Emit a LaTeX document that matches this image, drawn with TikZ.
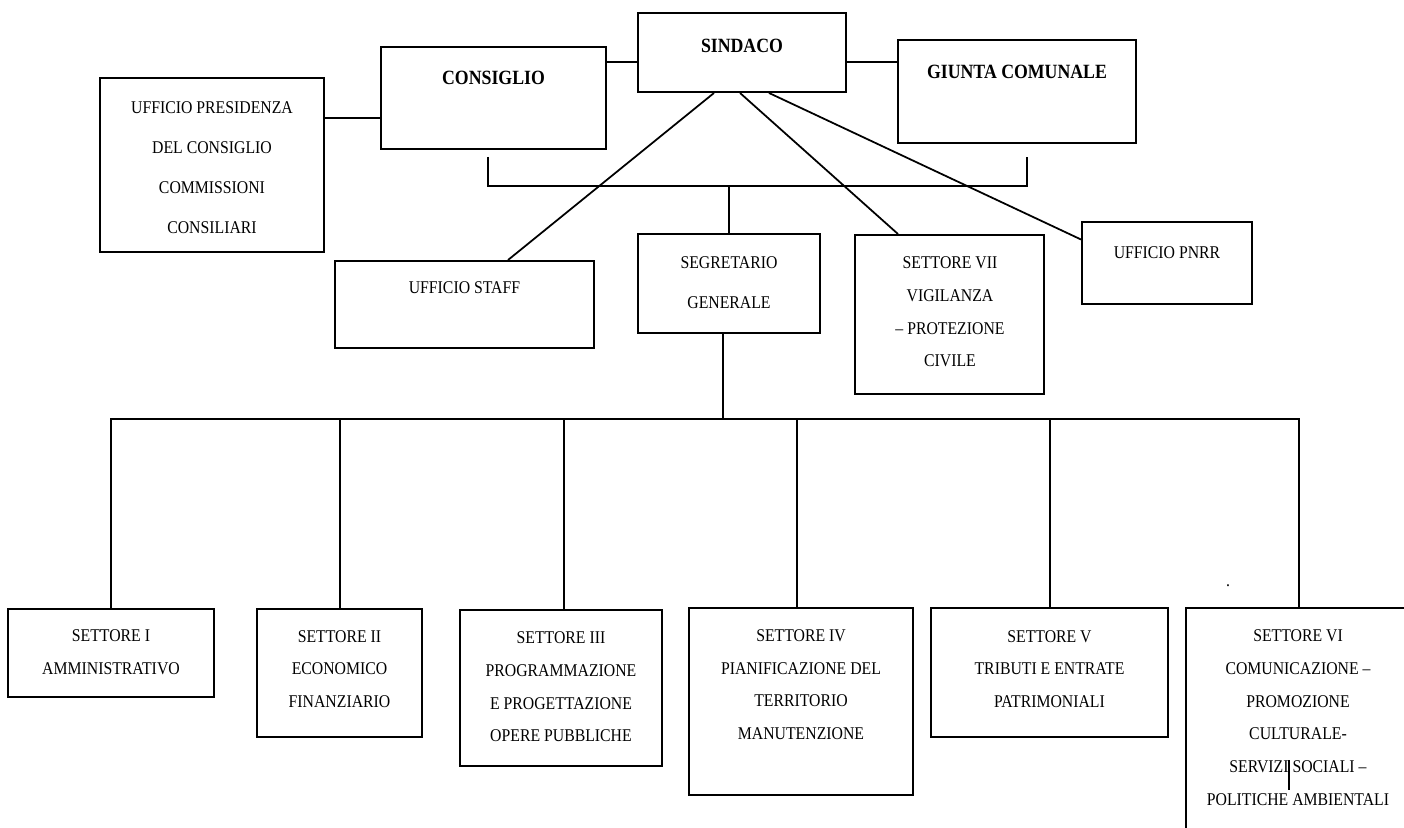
\documentclass[tikz,border=0pt]{standalone}
\usepackage{fontspec}
\setmainfont{Liberation Serif}[FakeStretch=0.88]
\usepackage{tikz}
\tikzset{box/.style 2 args={draw, line width=1.1pt, rectangle, inner sep=0pt, minimum width=#1*0.02cm, minimum height=#2*0.02cm},
         txt/.style={font=\fontsize{10.2}{18.6}\selectfont, align=center, inner sep=0pt},
         wtxt/.style={font=\fontsize{10.2}{22.8}\selectfont, align=center, inner sep=0pt},
         btxt/.style={font=\fontsize{11.5}{14}\selectfont\bfseries, inner sep=0pt},
         link/.style={line width=1pt}}

\begin{document}
\begin{tikzpicture}[x=0.02cm, y=-0.02cm]
    \clip (0,0) rectangle (1404,828);
    % vertice
    \node[box={224}{174}](pres)at(212,165){};
    \node[box={225}{102}](cons)at(493.5,98){};
    \node[box={208}{79}](sind)at(742,52.5){};
    \node[box={238}{103}](giun)at(1017,91.5){};
    \node[wtxt](presT)at(212,167.5){UFFICIO PRESIDENZA\\DEL CONSIGLIO\\COMMISSIONI\\CONSILIARI};
    \node[btxt](consT)at(493.5,78){CONSIGLIO};
    \node[btxt](sindT)at(742,46){SINDACO};
    \node[btxt](giunT)at(1017,72){GIUNTA COMUNALE};
    % staff e segreteria
    \node[box={259}{87}](staff)at(464.5,304.5){};
    \node[box={182}{99}](segr)at(729,283.5){};
    \node[box={189}{159}](sett7)at(949.5,314.5){};
    \node[box={170}{82}](pnrr)at(1167,263){};
    \node[txt](staffT)at(464.5,288){UFFICIO STAFF};
    \node[wtxt](segrT)at(729,283){SEGRETARIO\\GENERALE};
    \node[txt](sett7T)at(950,312){SETTORE VII\\VIGILANZA\\– PROTEZIONE\\CIVILE};
    \node[txt](pnrrT)at(1167,253){UFFICIO PNRR};
    % settori
    \node[box={206}{88}](s1)at(111,653){};
    \node[box={165}{128}](s2)at(339.5,673){};
    \node[box={202}{156}](s3)at(561,688){};
    \node[box={224}{187}](s4)at(801,701.5){};
    \node[box={237}{129}](s5)at(1049.5,672.5){};
    \node[box={226}{242}](s6)at(1299,729){};
    \node[txt](s1T)at(111,652){SETTORE I\\AMMINISTRATIVO};
    \node[txt](s2T)at(339.5,669){SETTORE II\\ECONOMICO\\FINANZIARIO};
    \node[txt](s3T)at(561,687){SETTORE III\\PROGRAMMAZIONE\\E PROGETTAZIONE\\OPERE PUBBLICHE};
    \node[txt](s4T)at(801,684.5){SETTORE IV\\PIANIFICAZIONE DEL\\TERRITORIO\\MANUTENZIONE};
    \node[txt](s5T)at(1049.5,669){SETTORE V\\TRIBUTI E ENTRATE\\PATRIMONIALI};
    \node[txt](s6T)at(1298,717.5){SETTORE VI\\COMUNICAZIONE –\\PROMOZIONE\\CULTURALE-\\SERVIZI SOCIALI –\\POLITICHE AMBIENTALI};
    \node[txt](punto)at(1228,586){.};

    % collegamenti in alto
    \coordinate(pc)at([yshift=-0.4cm]cons.west);
    \draw[link](pc)--(pc -| pres.east);
    \coordinate(sl)at([yshift=-0.19cm]sind.west);
    \draw[link](sl)--(sl -| cons.east);
    \coordinate(sr)at([yshift=-0.19cm]sind.east);
    \draw[link](sr)--(sr -| giun.west);
    \draw[link]([xshift=-0.56cm]sind.south)--([xshift=0.87cm]staff.north);
    \draw[link]([xshift=-0.04cm]sind.south)--([xshift=-1.03cm]sett7.north);
    \draw[link]([xshift=0.54cm]sind.south)--([yshift=0.47cm]pnrr.west);
    \coordinate(brk)at(729,186);
    \draw[link]([xshift=-0.11cm,yshift=-0.14cm]cons.south)|-(brk)-|([xshift=0.2cm,yshift=-0.26cm]giun.south);
    \draw[link](brk)--(segr.north);

    % collegamenti ai settori
    \coordinate(bus)at(723,419);
    \draw[link]([xshift=-0.12cm]segr.south)--(bus);
    \draw[link](s1.north)|-(bus)-|(s6.north);
    \foreach \n/\dx in {s2/0.01,s3/0.06,s4/-0.08,s5/0.01}{
        \coordinate(d)at([xshift=\dx cm]\n.north);
        \draw[link](d)--(d |- bus);
    }
    \coordinate(barA)at(1289,760);
    \coordinate(barB)at(1289,790);
    \draw[link](barA)--(barB);
\end{tikzpicture}
\end{document}
